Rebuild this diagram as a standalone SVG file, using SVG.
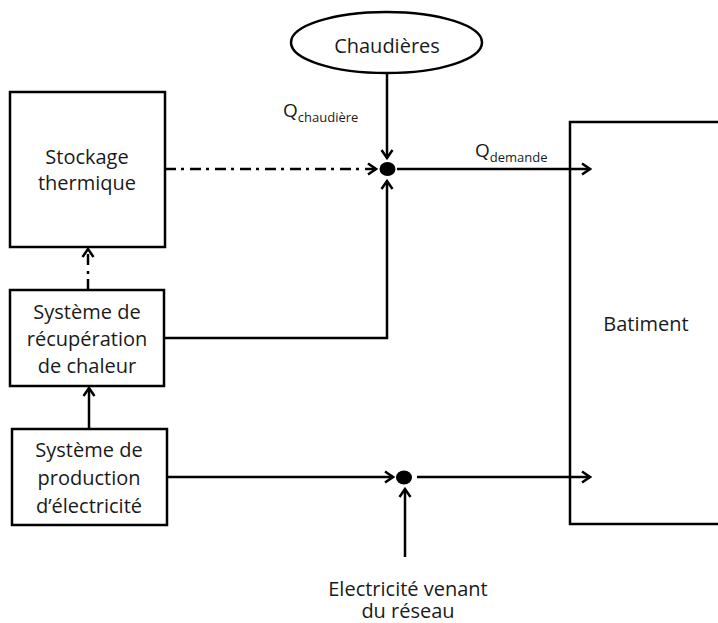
<svg xmlns="http://www.w3.org/2000/svg" width="718" height="623" viewBox="0 0 718 623">
<style>
.box{fill:#fff;stroke:#000;stroke-width:2.5}
.t{font-family:"Open Sans","Noto Sans","Liberation Sans",sans-serif;font-size:20px;fill:#1a1a1a;text-anchor:middle}
.q{font-family:"Open Sans","Noto Sans","Liberation Sans",sans-serif;font-size:19px;fill:#1a1a1a}
.sub{font-size:13px}
.ln{fill:none;stroke:#000;stroke-width:2.5}
.dd{stroke-dasharray:11 5 3 6}
</style>
<defs>
<marker id="ah" viewBox="0 0 12 14" refX="10" refY="7" markerWidth="12" markerHeight="14" markerUnits="userSpaceOnUse" orient="auto">
<path d="M2,1.5 L10,7 L2,12.5" fill="none" stroke="#000" stroke-width="2.5"/>
</marker>
</defs>
<rect width="718" height="623" fill="#fff"/>
<g id="batiment">
<rect class="box" x="570" y="122" width="200" height="402"/>
<text class="t" x="646" y="331">Batiment</text>
</g>
<g id="chaudieres">
<ellipse class="box" cx="386.5" cy="42.5" rx="95.5" ry="30.5"/>
<text class="t" x="387" y="53">Chaudières</text>
</g>
<g id="stockage">
<rect class="box" x="10" y="92" width="155" height="155"/>
<text class="t" x="87" y="164">Stockage</text>
<text class="t" x="87" y="190">thermique</text>
</g>
<g id="recuperation">
<rect class="box" x="10" y="290" width="154" height="96"/>
<text class="t" x="87" y="319">Système de</text>
<text class="t" x="87" y="346">récupération</text>
<text class="t" x="87" y="373">de chaleur</text>
</g>
<g id="production">
<rect class="box" x="12" y="429" width="155" height="96"/>
<text class="t" x="89" y="457">Système de</text>
<text class="t" x="89" y="485">production</text>
<text class="t" x="89" y="513">d’électricité</text>
</g>
<g id="noeud-chaleur">
<ellipse cx="387.5" cy="169" rx="8" ry="7" fill="#000"/>
</g>
<g id="noeud-electricite">
<ellipse cx="404" cy="477.5" rx="8" ry="7" fill="#000"/>
</g>
<g id="labels">
<text class="q" x="283" y="117">Q<tspan class="sub" dy="5">chaudière</tspan></text>
<text class="q" x="475" y="157">Q<tspan class="sub" dy="5">demande</tspan></text>
<text class="t" x="408" y="596">Electricité venant</text>
<text class="t" x="408" y="618">du réseau</text>
</g>
<g id="connectors">
<path class="ln dd" d="M165,169 H376" marker-end="url(#ah)"/>
<path class="ln" d="M387,73 V158" marker-end="url(#ah)"/>
<path class="ln" d="M164,338 H387 V181" marker-end="url(#ah)"/>
<path class="ln" d="M397,169 H590" marker-end="url(#ah)"/>
<path class="ln dd" d="M88,290 V249" marker-end="url(#ah)"/>
<path class="ln" d="M89,429 V388" marker-end="url(#ah)"/>
<path class="ln" d="M167,477 H393" marker-end="url(#ah)"/>
<path class="ln" d="M417,477 H590" marker-end="url(#ah)"/>
<path class="ln" d="M405,557 V489" marker-end="url(#ah)"/>
</g>
</svg>
